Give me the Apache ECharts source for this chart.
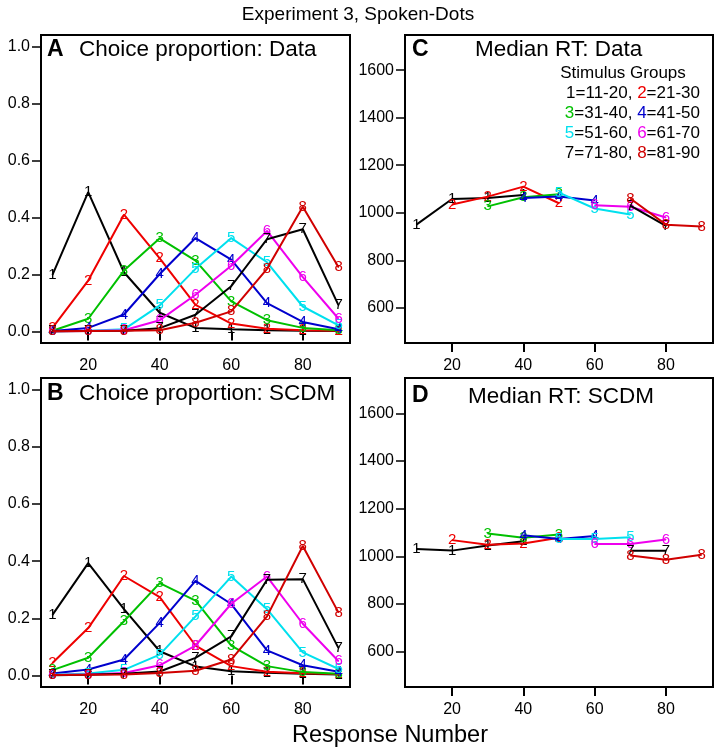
<!DOCTYPE html>
<html><head><meta charset="utf-8">
<script src="https://cdn.jsdelivr.net/npm/echarts@6/dist/echarts.min.js"></script>
<style>html,body{margin:0;padding:0;background:#fff}#c{width:717px;height:750px}</style>
</head><body><div id="c"></div>
<script>
// ---- data ----
const responseNumbers = [10, 20, 30, 40, 50, 60, 70, 80, 90];
const groupLabels = ['1', '2', '3', '4', '5', '6', '7', '8'];
const xTickValues = [20, 40, 60, 80];
const propTickValues = [0, 0.2, 0.4, 0.6, 0.8, 1.0];
const rtTickValues = [600, 800, 1000, 1200, 1400, 1600];

// Panel A: Choice proportion, Data (group 1..8, responses 10..90)
const propDataG1 = [0.199, 0.489, 0.208, 0.066, 0.013, 0.008, 0.005, 0.003, 0.002];
const propDataG2 = [0.013, 0.179, 0.410, 0.257, 0.094, 0.028, 0.010, 0.005, 0.003];
const propDataG3 = [0.003, 0.045, 0.214, 0.327, 0.249, 0.106, 0.040, 0.013, 0.005];
const propDataG4 = [0.002, 0.013, 0.060, 0.202, 0.328, 0.252, 0.100, 0.034, 0.008];
const propDataG5 = [0.001, 0.003, 0.008, 0.092, 0.220, 0.328, 0.243, 0.088, 0.022];
const propDataG6 = [0.001, 0.002, 0.005, 0.040, 0.129, 0.231, 0.353, 0.191, 0.045];
const propDataG7 = [0.001, 0.002, 0.003, 0.012, 0.059, 0.159, 0.324, 0.359, 0.092];
const propDataG8 = [0.001, 0.002, 0.003, 0.005, 0.031, 0.071, 0.220, 0.438, 0.226];

// Panel B: Choice proportion, SCDM
const propScdmG1 = [0.212, 0.393, 0.232, 0.085, 0.032, 0.015, 0.010, 0.006, 0.004];
const propScdmG2 = [0.044, 0.166, 0.348, 0.274, 0.105, 0.033, 0.013, 0.008, 0.005];
const propScdmG3 = [0.019, 0.062, 0.190, 0.323, 0.262, 0.105, 0.033, 0.012, 0.006];
const propScdmG4 = [0.007, 0.021, 0.056, 0.184, 0.331, 0.250, 0.088, 0.036, 0.013];
const propScdmG5 = [0.003, 0.007, 0.020, 0.073, 0.207, 0.346, 0.232, 0.081, 0.023];
const propScdmG6 = [0.002, 0.004, 0.009, 0.036, 0.105, 0.251, 0.346, 0.181, 0.050];
const propScdmG7 = [0.001, 0.003, 0.006, 0.014, 0.062, 0.137, 0.335, 0.337, 0.096];
const propScdmG8 = [0.002, 0.003, 0.004, 0.009, 0.017, 0.056, 0.207, 0.453, 0.220];

// Panel C: Median RT, Data (null = not shown)
const rtDataG1 = [950, 1058, 1062, 1075, null, null, null, null, null];
const rtDataG2 = [null, 1035, 1068, 1110, 1040, null, null, null, null];
const rtDataG3 = [null, null, 1027, 1065, 1078, null, null, null, null];
const rtDataG4 = [null, null, null, 1062, 1068, 1052, null, null, null];
const rtDataG5 = [null, null, null, null, 1085, 1018, 993, null, null];
const rtDataG6 = [null, null, null, null, null, 1032, 1025, 980, null];
const rtDataG7 = [null, null, null, null, null, null, 1030, 945, null];
const rtDataG8 = [null, null, null, null, null, null, 1060, 950, 942];

// Panel D: Median RT, SCDM
const rtScdmG1 = [1031, 1024, 1045, 1063, null, null, null, null, null];
const rtScdmG2 = [null, 1068, 1049, 1054, 1078, null, null, null, null];
const rtScdmG3 = [null, null, 1096, 1078, 1092, null, null, null, null];
const rtScdmG4 = [null, null, null, 1088, 1073, 1085, null, null, null];
const rtScdmG5 = [null, null, null, null, 1073, 1073, 1080, null, null];
const rtScdmG6 = [null, null, null, null, null, 1052, 1052, 1071, null];
const rtScdmG7 = [null, null, null, null, null, null, 1023, 1023, null];
const rtScdmG8 = [null, null, null, null, null, null, 1004, 986, 1007];

const panelSets = [
  [propDataG1, propDataG2, propDataG3, propDataG4, propDataG5, propDataG6, propDataG7, propDataG8],
  [rtDataG1, rtDataG2, rtDataG3, rtDataG4, rtDataG5, rtDataG6, rtDataG7, rtDataG8],
  [propScdmG1, propScdmG2, propScdmG3, propScdmG4, propScdmG5, propScdmG6, propScdmG7, propScdmG8],
  [rtScdmG1, rtScdmG2, rtScdmG3, rtScdmG4, rtScdmG5, rtScdmG6, rtScdmG7, rtScdmG8]
];

// ---- styling ----
const FONT = 'Liberation Sans';
const groupColors = ['#000000', '#ee0000', '#00c000', '#0000cd', '#00e0ee', '#ee00ee', '#000000', '#d00000'];

const grids = [
  {left: 41, top: 35, width: 309, height: 308},
  {left: 405, top: 35, width: 308, height: 308},
  {left: 41, top: 378, width: 309, height: 309},
  {left: 405, top: 378, width: 308, height: 309}
].map(g => Object.assign(g, {show: true, borderColor: '#000', borderWidth: 2, backgroundColor: 'transparent'}));

const xAxes = grids.map((g, i) => ({
  type: 'value', gridIndex: i, min: 6.8, max: 93.2,
  splitLine: {show: false}, axisLine: {show: false},
  axisTick: {show: true, inside: false, length: 9, lineStyle: {color: '#000', width: 2}, customValues: xTickValues},
  axisLabel: {show: true, margin: 15, fontSize: 16, color: '#000', fontFamily: FONT, customValues: xTickValues}
}));

const yAxes = grids.map((g, i) => {
  const isRT = (i === 1 || i === 3);
  return {
    type: 'value', gridIndex: i,
    min: isRT ? 452 : -0.04, max: isRT ? 1748 : 1.04,
    splitLine: {show: false}, axisLine: {show: false},
    axisTick: {show: true, inside: false, length: 9, lineStyle: {color: '#000', width: 1.5}, customValues: isRT ? rtTickValues : propTickValues},
    axisLabel: {show: true, margin: 11, fontSize: 16, color: '#000', fontFamily: FONT,
      customValues: isRT ? rtTickValues : propTickValues,
      formatter: v => isRT ? String(Math.round(v)) : v.toFixed(1)}
  };
});

const series = [];
panelSets.forEach((set, p) => {
  set.forEach((vals, gi) => {
    const data = [];
    responseNumbers.forEach((x, k) => { if (vals[k] !== null) data.push([x, vals[k]]); });
    series.push({
      type: 'line', xAxisIndex: p, yAxisIndex: p, data: data,
      symbol: 'circle', symbolSize: 1, showAllSymbol: true,
      lineStyle: {color: groupColors[gi], width: 2},
      itemStyle: {color: groupColors[gi]},
      label: {show: true, position: 'inside', formatter: groupLabels[gi], color: groupColors[gi],
        fontSize: 15, fontFamily: FONT},
      z: 2 + gi
    });
  });
});

function txt(x, y, text, size, opts) {
  return {type: 'text', x: x, y: y, style: Object.assign({text: text, fontSize: size, fontFamily: FONT, fill: '#000', verticalAlign: 'middle'}, opts || {})};
}

const rich = {
  k: {fill: '#000', fontSize: 17, fontFamily: FONT},
  r: {fill: '#ee0000', fontSize: 17, fontFamily: FONT},
  g: {fill: '#00c000', fontSize: 17, fontFamily: FONT},
  b: {fill: '#0000cd', fontSize: 17, fontFamily: FONT},
  c: {fill: '#00e0ee', fontSize: 17, fontFamily: FONT},
  m: {fill: '#ee00ee', fontSize: 17, fontFamily: FONT},
  d: {fill: '#d00000', fontSize: 17, fontFamily: FONT}
};

const graphics = [
  txt(358, 15, 'Experiment 3, Spoken-Dots', 19, {align: 'center'}),
  txt(390, 736, 'Response Number', 23.5, {align: 'center'}),
  txt(47, 50, 'A', 23, {fontWeight: 'bold'}),
  txt(79, 50, 'Choice proportion: Data', 22.5),
  txt(47, 394, 'B', 23, {fontWeight: 'bold'}),
  txt(79, 394, 'Choice proportion: SCDM', 22.5),
  txt(412, 50, 'C', 23, {fontWeight: 'bold'}),
  txt(475, 50, 'Median RT: Data', 22.5),
  txt(412, 396, 'D', 23, {fontWeight: 'bold'}),
  txt(468, 397, 'Median RT: SCDM', 22.5),
  txt(623, 73, 'Stimulus Groups', 17, {align: 'center'}),
  {type: 'text', x: 700, y: 93, style: {text: '{k|1=11-20, }{r|2}{k|=21-30}', rich: rich, align: 'right', verticalAlign: 'middle', fontSize: 17, fontFamily: FONT}},
  {type: 'text', x: 700, y: 113, style: {text: '{g|3}{k|=31-40, }{b|4}{k|=41-50}', rich: rich, align: 'right', verticalAlign: 'middle', fontSize: 17, fontFamily: FONT}},
  {type: 'text', x: 700, y: 133, style: {text: '{c|5}{k|=51-60, }{m|6}{k|=61-70}', rich: rich, align: 'right', verticalAlign: 'middle', fontSize: 17, fontFamily: FONT}},
  {type: 'text', x: 700, y: 153, style: {text: '{k|7=71-80, }{d|8}{k|=81-90}', rich: rich, align: 'right', verticalAlign: 'middle', fontSize: 17, fontFamily: FONT}}
];

const chart = echarts.init(document.getElementById('c'), null, {renderer: 'canvas'});
chart.setOption({
  animation: false,
  backgroundColor: '#fff',
  grid: grids, xAxis: xAxes, yAxis: yAxes,
  series: series,
  graphic: graphics
});
</script></body></html>
